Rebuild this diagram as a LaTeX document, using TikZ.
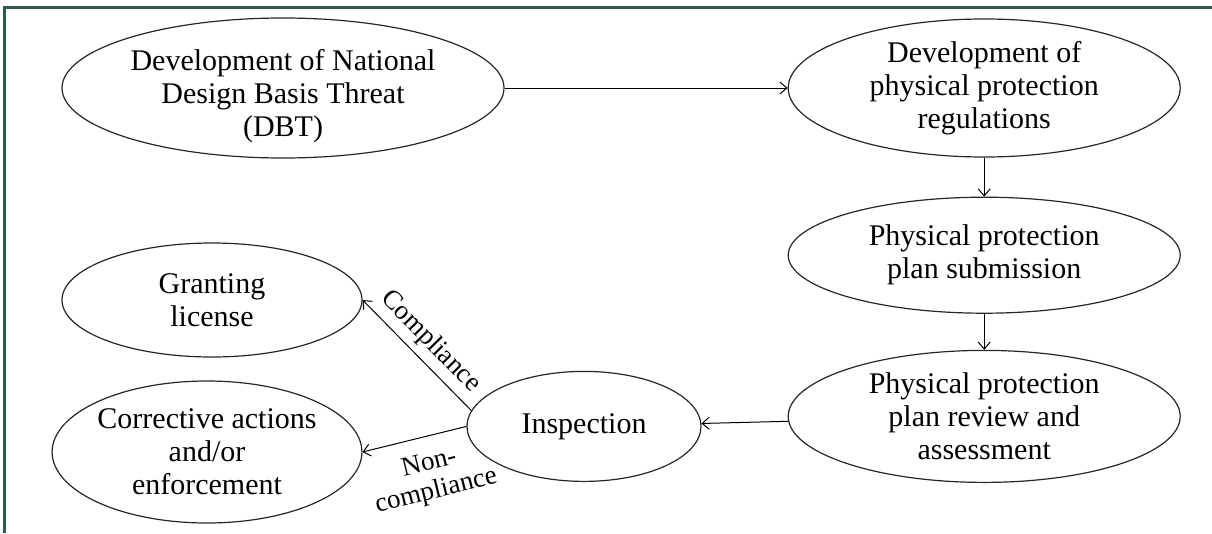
\documentclass[tikz,border=0pt]{standalone}
\usepackage{fontspec}
\setmainfont{Liberation Serif}
\usetikzlibrary{
  shapes.geometric,
  arrows.meta,
  positioning
}
\definecolor{framegreen}{HTML}{2F5B4C}

\begin{document}
\begin{tikzpicture}[
  x = 1pt,
  y = 1pt,
  % ── Stage ellipse ───────────────────────────────────────
  stage/.style={
    ellipse,
    draw       = black!85,
    line width = 1.2pt,
    inner sep  = 0pt,
    align      = center,
    font       = \fontsize{30}{33}\selectfont
  },
  % ── Arrow ───────────────────────────────────────────────
  arr/.style={
    -{Straight Barb[length=7pt,width=12pt]},
    line width = 1pt
  },
  % ── Edge label ──────────────────────────────────────────
  edgelbl/.style={
    font  = \fontsize{27}{29}\selectfont,
    sloped,
    align = center
  }
]

\useasboundingbox (0,0) rectangle (1212,-533);

% ── Frame ──────────────────────────────────────────────────
\draw[framegreen, line width=3pt] (1212,-7) -- (4,-7) -- (4,-533);

% ── Nodes ──────────────────────────────────────────────────
\node[stage, minimum width=442pt, minimum height=140pt,
      text height=104pt, inner ysep=-8pt] (dbt) at (283,-88)
  {Development of National\\Design Basis Threat\\(DBT)};
\node[stage, minimum width=392pt, minimum height=138pt, right=283pt of dbt] (regs)
  {Development of\\physical protection\\regulations};
\node[stage, minimum width=392pt, minimum height=116pt, below=39pt of regs] (sub)
  {Physical protection\\plan submission};
\node[stage, minimum width=392pt, minimum height=132pt, below=36pt of sub] (rev)
  {Physical protection\\plan review and\\assessment};
\node[stage, minimum width=234pt, minimum height=110pt, left=86pt of rev, yshift=-10pt] (insp)
  {Inspection};
\node[stage, minimum width=300pt, minimum height=114pt] (grant) at (212,-300)
  {Granting\\license};
\node[stage, minimum width=296pt, minimum height=142pt] (corr) at (207,-452)
  {Corrective actions\\and/or\\enforcement};

% ── Arrows ─────────────────────────────────────────────────
\foreach \f/\t in {dbt/regs, regs/sub, sub/rev, rev/insp}
  \draw[arr] (\f) -- (\t);

\draw[arr] (insp.172) -- node[edgelbl, above=3pt] {Compliance} (grant.east);
\draw[arr] (insp.west) -- node[edgelbl, below=12pt, pos=0.42] {Non-\\compliance} (corr.east);

\end{tikzpicture}
\end{document}
